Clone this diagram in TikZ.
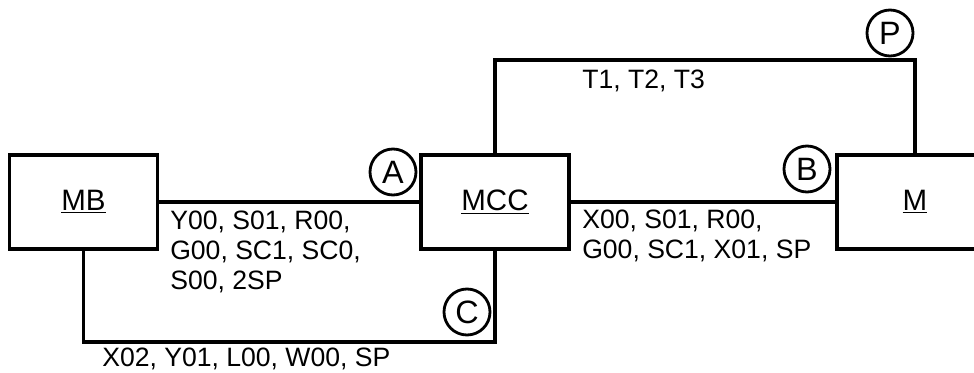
\documentclass[tikz,border=0pt]{standalone}
\usepackage{fontspec}
\setmainfont{Liberation Sans}
\usepackage{tikz}

\tikzset{
  unit/.style={draw, line width=2.6pt, minimum width=3.7cm, minimum height=2.35cm,
    font=\fontsize{21}{24}\selectfont},
  port/.style={draw, circle, line width=2pt, minimum size=1.15cm, inner sep=0pt,
    font=\fontsize{23}{24}\selectfont},
  sigs/.style={anchor=north west, inner sep=0pt, align=left,
    font=\fontsize{18.9}{21.3}\selectfont},
  bus/.style={line width=2.6pt},
}

\begin{document}
\begin{tikzpicture}[x=0.025cm, y=-0.025cm]
  \useasboundingbox (0,0) rectangle (974,373);

  % --- units ---
  \node[unit] (MB) at (83.5,202) {\underline{MB}};
  \node[unit] (MCC) at (495,202) {\underline{MCC}};
  \node[unit, minimum width=3.9cm] (M) at (915,202) {\underline{M}};

  % --- links ---
  \draw[bus] (MB) -- (MCC);
  \draw[bus] (MCC) -- (M);
  \coordinate (ptop) at (700,60);
  \draw[bus] (MCC.north) |- (ptop) -| (M.north);
  \coordinate (cbot) at (300,342);
  \draw[bus] (MB.south) |- (cbot) -| (MCC.south);

  % --- port marks ---
  \node[port] (A) at (393,172) {A};
  \node[port] (B) at (807,169) {B};
  \node[port] (C) at (467,312) {C};
  \node[port] (P) at (890,33) {P};

  % --- signal lists ---
  \node[sigs] (sigA) at (170,211) {Y00, S01, R00,\\G00, SC1, SC0,\\S00, 2SP};
  \node[sigs] (sigB) at (582,210) {X00, S01, R00,\\G00, SC1, X01, SP};
  \node[sigs] (sigP) at (582,70) {T1, T2, T3};
  \node[sigs] (sigC) at (102,348) {X02, Y01, L00, W00, SP};
\end{tikzpicture}
\end{document}
